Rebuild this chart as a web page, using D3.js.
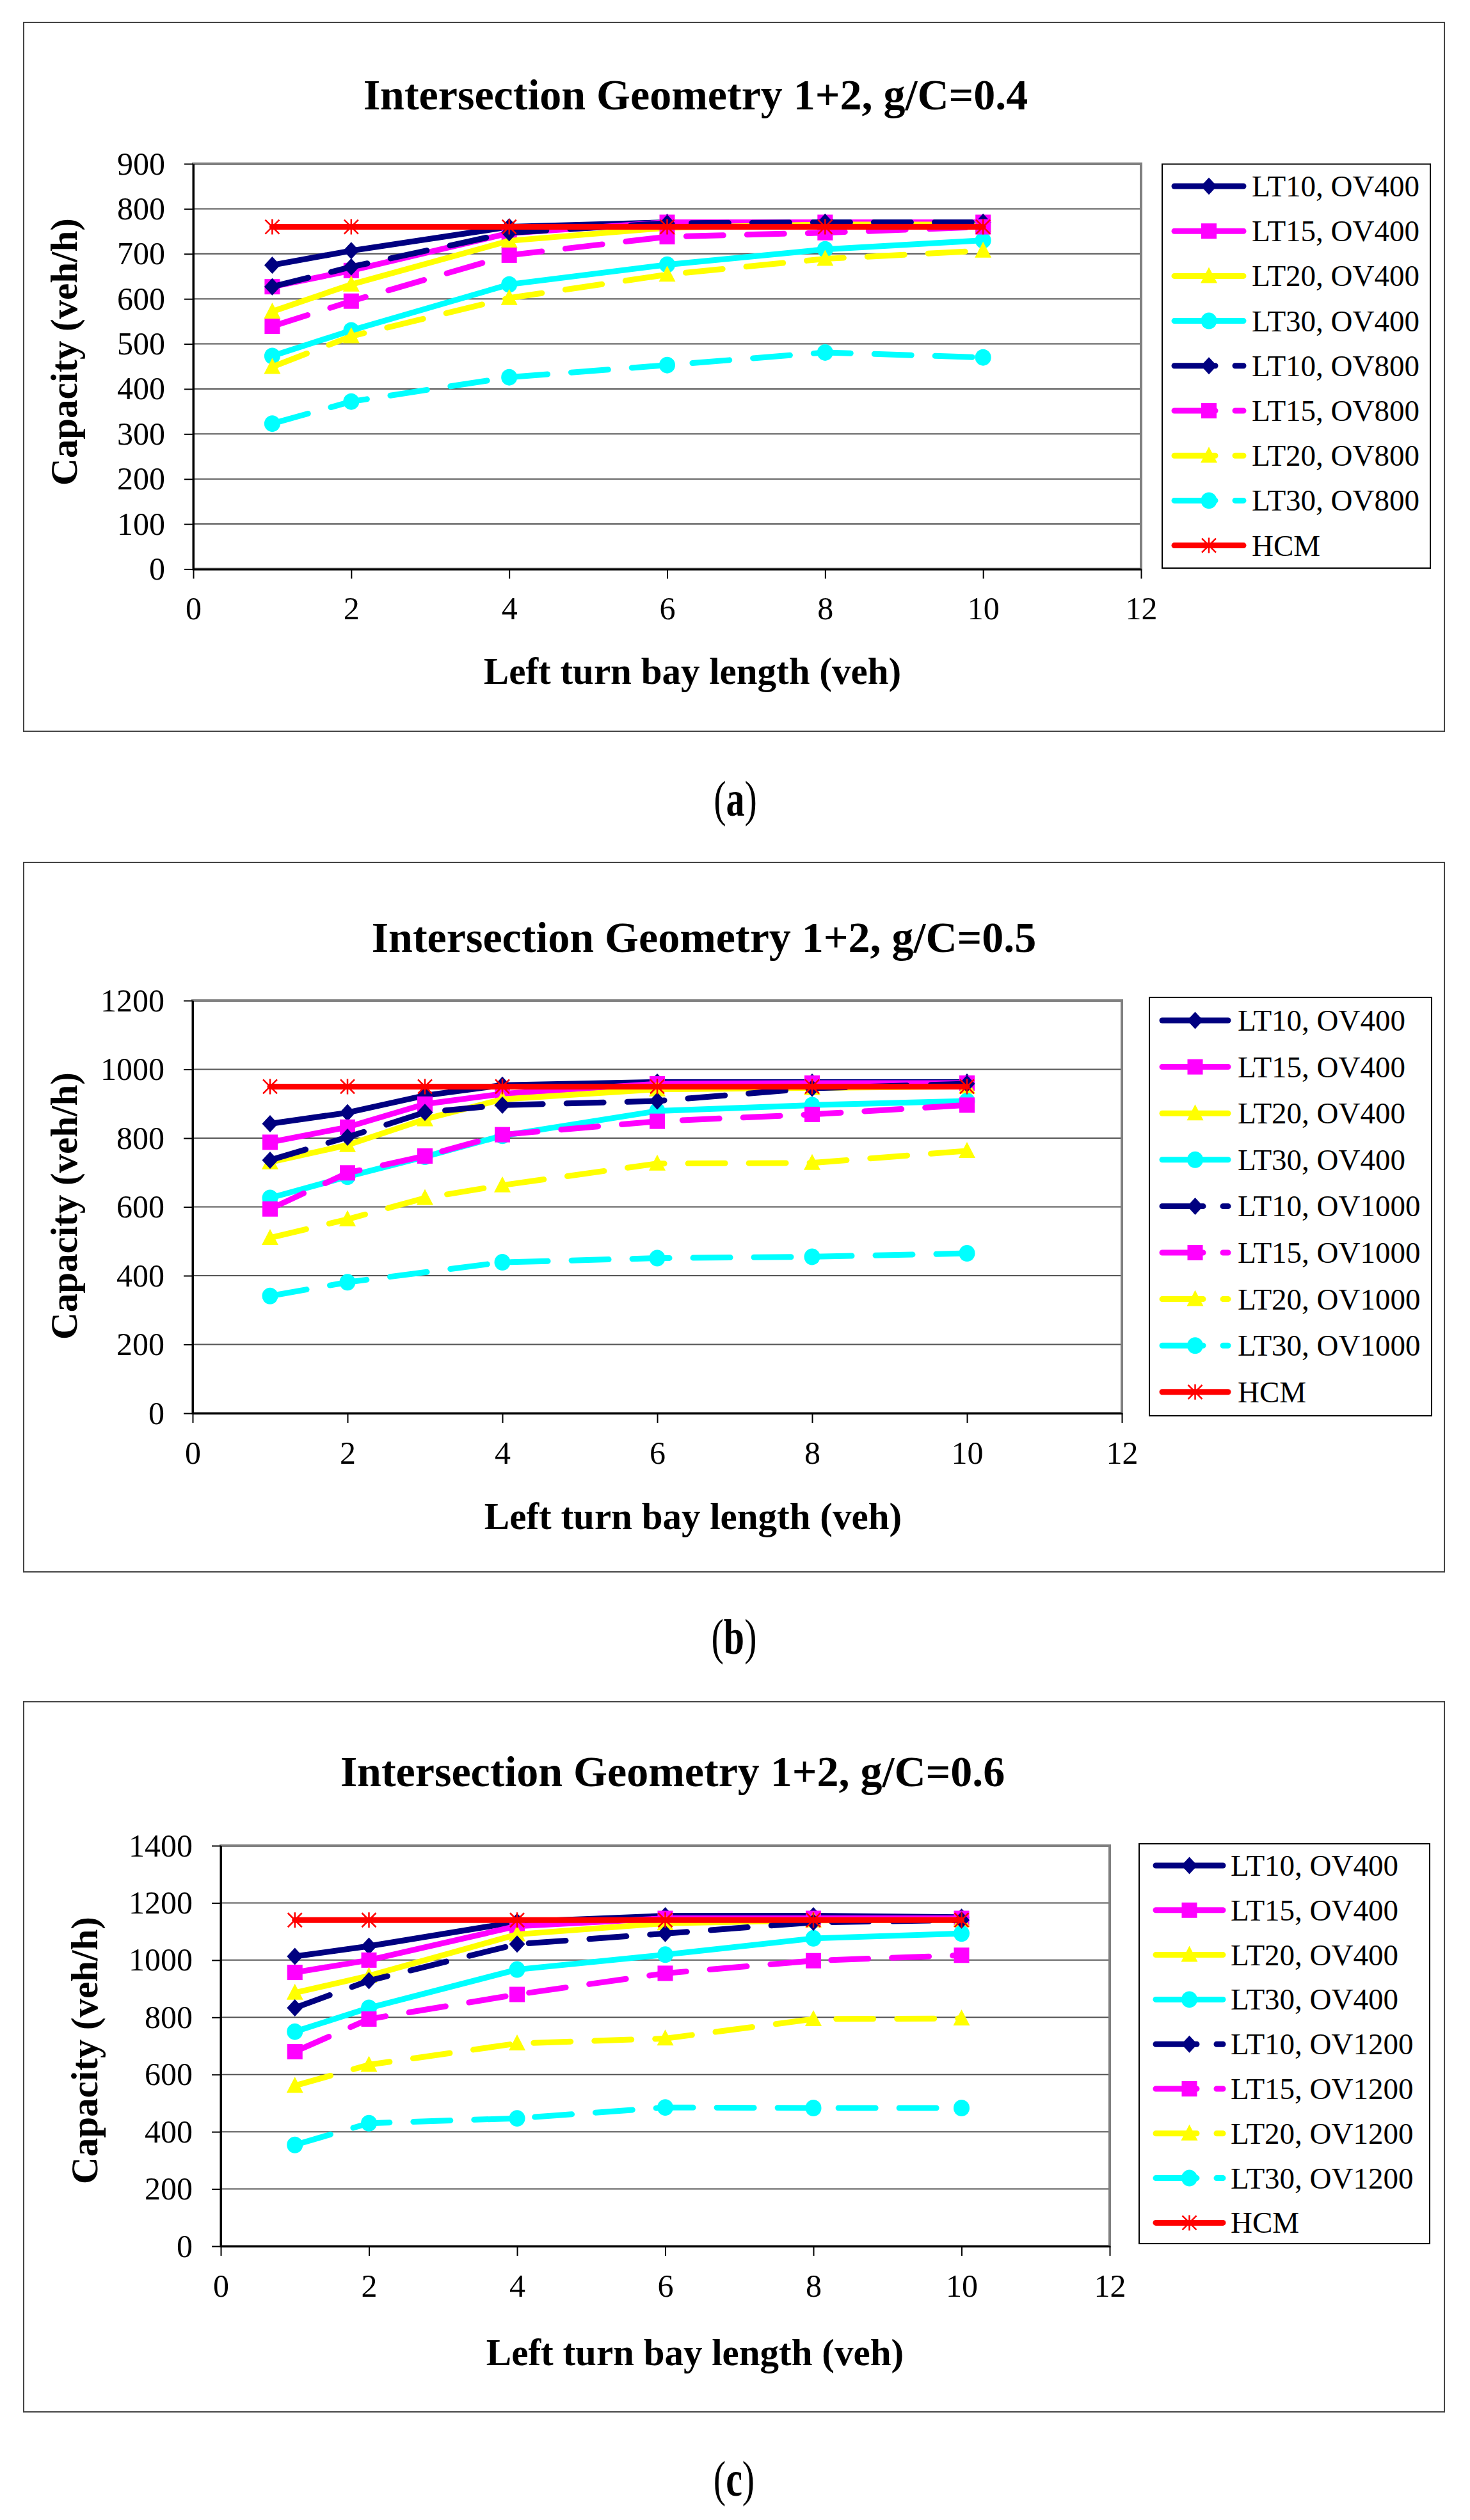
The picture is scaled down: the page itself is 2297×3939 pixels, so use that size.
<!DOCTYPE html>
<html lang="en">
<head>
<meta charset="UTF-8">
<script src="https://d3js.org/d3.v7.min.js"></script>
<title>Intersection Geometry 1+2</title>
<style>
    body { margin: 0; background: #fff; }
    svg text { font-family: "Liberation Serif", "Times New Roman", serif; }
</style>
</head>
<body>
<svg id="fig" width="2297" height="3939"></svg>
<script>
// bay lengths (veh) where each series has a point
var bayA = [1, 2, 4, 6, 8, 10];
var bayB = [1, 2, 3, 4, 6, 8, 10];
var bayB30 = [1, 2, 4, 6, 8, 10];   // LT30, OV1000 has no point at 3
var bayC = [1, 2, 4, 6, 8, 10];

var xTicks = [0, 2, 4, 6, 8, 10, 12];
var yTicksA = [0, 100, 200, 300, 400, 500, 600, 700, 800, 900];
var yTicksB = [0, 200, 400, 600, 800, 1000, 1200];
var yTicksC = [0, 200, 400, 600, 800, 1000, 1200, 1400];

var labelsA = ["LT10, OV400", "LT15, OV400", "LT20, OV400", "LT30, OV400",
    "LT10, OV800", "LT15, OV800", "LT20, OV800", "LT30, OV800", "HCM"];
var labelsB = ["LT10, OV400", "LT15, OV400", "LT20, OV400", "LT30, OV400",
    "LT10, OV1000", "LT15, OV1000", "LT20, OV1000", "LT30, OV1000", "HCM"];
var labelsC = ["LT10, OV400", "LT15, OV400", "LT20, OV400", "LT30, OV400",
    "LT10, OV1200", "LT15, OV1200", "LT20, OV1200", "LT30, OV1200", "HCM"];

// (a) g/C = 0.4, capacity veh/h
var a_lt10_ov400 = [675, 707, 760, 770, 770, 770];
var a_lt15_ov400 = [627, 663, 746, 770, 770, 770];
var a_lt20_ov400 = [572, 632, 729, 758, 765, 765];
var a_lt30_ov400 = [473, 530, 632, 676, 710, 730];
var a_lt10_ov800 = [627, 671, 747, 768, 770, 770];
var a_lt15_ov800 = [539, 595, 697, 738, 747, 760];
var a_lt20_ov800 = [449, 517, 602, 654, 689, 707];
var a_lt30_ov800 = [323, 372, 426, 453, 481, 470];
var a_hcm = [760, 760, 760, 760, 760, 760];

// (b) g/C = 0.5
var b_lt10_ov400 = [842, 874, 924, 954, 963, 963, 963];
var b_lt15_ov400 = [788, 832, 899, 929, 958, 960, 960];
var b_lt20_ov400 = [730, 780, 855, 913, 942, 946, 950];
var b_lt30_ov400 = [626, 688, 746, 807, 879, 896, 908];
var b_lt10_ov1000 = [736, 803, 875, 896, 908, 945, 958];
var b_lt15_ov1000 = [594, 699, 748, 810, 849, 869, 896];
var b_lt20_ov1000 = [510, 564, 626, 663, 726, 728, 763];
var b_lt30_ov1000 = [341, 381, 439, 451, 455, 465];
var b_hcm = [950, 950, 950, 950, 950, 950, 950];

// (c) g/C = 0.6
var c_lt10_ov400 = [1013, 1049, 1134, 1155, 1155, 1150];
var c_lt15_ov400 = [957, 1000, 1119, 1146, 1146, 1146];
var c_lt20_ov400 = [886, 945, 1090, 1129, 1139, 1140];
var c_lt30_ov400 = [750, 833, 967, 1019, 1076, 1093];
var c_lt10_ov1200 = [833, 928, 1056, 1093, 1132, 1140];
var c_lt15_ov1200 = [680, 794, 880, 954, 998, 1017];
var c_lt20_ov1200 = [561, 634, 709, 726, 794, 796];
var c_lt30_ov1200 = [354, 430, 447, 485, 483, 483];
var c_hcm = [1140, 1140, 1140, 1140, 1140, 1140];

// look of the nine series, same in every panel
var looks = [
    {color: "#000080", dashed: false, marker: "diamond"},
    {color: "#ff00ff", dashed: false, marker: "square"},
    {color: "#ffff00", dashed: false, marker: "triangle"},
    {color: "#00ffff", dashed: false, marker: "circle"},
    {color: "#000080", dashed: true, marker: "diamond"},
    {color: "#ff00ff", dashed: true, marker: "square"},
    {color: "#ffff00", dashed: true, marker: "triangle"},
    {color: "#00ffff", dashed: true, marker: "circle"},
    {color: "#ff0000", dashed: false, marker: "star"}
];

var panels = [
    {
        title: "Intersection Geometry 1+2, g/C=0.4", letter: "a",
        xs: [bayA, bayA, bayA, bayA, bayA, bayA, bayA, bayA, bayA],
        ys: [a_lt10_ov400, a_lt15_ov400, a_lt20_ov400, a_lt30_ov400,
             a_lt10_ov800, a_lt15_ov800, a_lt20_ov800, a_lt30_ov800, a_hcm],
        labels: labelsA, yTicks: yTicksA,
        frame: [37, 35, 2220, 1108], plot: [302, 1783, 256, 889.5],
        legend: [1816, 256.5, 419, 631.5], item0: 291, step: 70.2, sample: [1831, 1947], textX: 1956,
        titlePos: [1087, 171], ylab: [120, 550], xlab: [1082, 1069], cap: [1149, 1275]
    },
    {
        title: "Intersection Geometry 1+2, g/C=0.5", letter: "b",
        xs: [bayB, bayB, bayB, bayB, bayB, bayB, bayB, bayB30, bayB],
        ys: [b_lt10_ov400, b_lt15_ov400, b_lt20_ov400, b_lt30_ov400,
             b_lt10_ov1000, b_lt15_ov1000, b_lt20_ov1000, b_lt30_ov1000, b_hcm],
        labels: labelsB, yTicks: yTicksB,
        frame: [37, 1348, 2220, 1109], plot: [301, 1753, 1564, 2209],
        legend: [1796, 1559, 441, 654], item0: 1595, step: 72.6, sample: [1812, 1923], textX: 1934,
        titlePos: [1100, 1488], ylab: [120, 1885], xlab: [1083, 2390], cap: [1147, 2585]
    },
    {
        title: "Intersection Geometry 1+2, g/C=0.6", letter: "c",
        xs: [bayC, bayC, bayC, bayC, bayC, bayC, bayC, bayC, bayC],
        ys: [c_lt10_ov400, c_lt15_ov400, c_lt20_ov400, c_lt30_ov400,
             c_lt10_ov1200, c_lt15_ov1200, c_lt20_ov1200, c_lt30_ov1200, c_hcm],
        labels: labelsC, yTicks: yTicksC,
        frame: [37, 2660, 2220, 1110], plot: [345, 1734, 2885, 3511],
        legend: [1780, 2882, 454, 625], item0: 2916, step: 69.8, sample: [1802, 1915], textX: 1923,
        titlePos: [1051, 2792], ylab: [152, 3205], xlab: [1086, 3697], cap: [1147, 3901]
    }
];

var svg = d3.select("#fig");
var FONT = "'Liberation Serif', 'Times New Roman', serif";

function drawMarker(g, kind, color, cx, cy) {
    if (kind === "diamond") {
        g.append("path").attr("d", "M" + cx + "," + (cy - 13.5) + "L" + (cx + 12.5) + "," + cy +
            "L" + cx + "," + (cy + 13.5) + "L" + (cx - 12.5) + "," + cy + "Z").attr("fill", color);
    } else if (kind === "square") {
        g.append("rect").attr("x", cx - 12).attr("y", cy - 12)
            .attr("width", 24).attr("height", 24).attr("fill", color);
    } else if (kind === "triangle") {
        g.append("path").attr("d", "M" + cx + "," + (cy - 14) + "L" + (cx + 13) + "," + (cy + 11) +
            "L" + (cx - 13) + "," + (cy + 11) + "Z").attr("fill", color);
    } else if (kind === "circle") {
        g.append("ellipse").attr("cx", cx).attr("cy", cy).attr("rx", 12.5).attr("ry", 13).attr("fill", color);
    } else {
        var r = 11;
        g.append("path").attr("d", "M" + (cx - r) + "," + (cy - r) + "L" + (cx + r) + "," + (cy + r) +
            "M" + (cx + r) + "," + (cy - r) + "L" + (cx - r) + "," + (cy + r) +
            "M" + cx + "," + (cy - r - 1) + "L" + cx + "," + (cy + r + 1))
            .attr("stroke", color).attr("stroke-width", 2.5).attr("fill", "none");
    }
}

panels.forEach(function(p) {
    var g = svg.append("g");
    var L = p.plot[0], R = p.plot[1], T = p.plot[2], B = p.plot[3];
    var yMax = p.yTicks[p.yTicks.length - 1];

    var x = d3.scaleLinear().domain([0, 12]).range([L, R]);
    var y = d3.scaleLinear().domain([0, yMax]).range([B, T]);

    // outer frame
    g.append("rect").attr("x", p.frame[0]).attr("y", p.frame[1])
        .attr("width", p.frame[2]).attr("height", p.frame[3])
        .attr("fill", "none").attr("stroke", "#444").attr("stroke-width", 2);

    g.append("text").attr("x", p.titlePos[0]).attr("y", p.titlePos[1])
        .attr("text-anchor", "middle").attr("font-size", 68).attr("font-weight", "bold")
        .text(p.title);

    // gridlines
    g.append("g").selectAll("line").data(p.yTicks.filter(function(d) { return d > 0 && d < yMax; }))
        .enter().append("line")
        .attr("x1", L).attr("x2", R)
        .attr("y1", function(d) { return y(d); }).attr("y2", function(d) { return y(d); })
        .attr("stroke", "#555").attr("stroke-width", 2);

    g.append("rect").attr("x", L).attr("y", T).attr("width", R - L).attr("height", B - T)
        .attr("fill", "none").attr("stroke", "#808080").attr("stroke-width", 4);

    // axes
    var yAxis = g.append("g").attr("transform", "translate(" + L + ",0)")
        .call(d3.axisLeft(y).tickValues(p.yTicks).tickFormat(d3.format("d"))
            .tickSize(14).tickSizeOuter(0).tickPadding(30));
    var xAxis = g.append("g").attr("transform", "translate(0," + B + ")")
        .call(d3.axisBottom(x).tickValues(xTicks).tickFormat(d3.format("d"))
            .tickSize(15).tickSizeOuter(0).tickPadding(28));
    [yAxis, xAxis].forEach(function(ax) {
        ax.attr("font-family", FONT).attr("font-size", 50);
        ax.selectAll("line").attr("stroke", "#000").attr("stroke-width", 2);
        ax.select(".domain").attr("stroke", "#000").attr("stroke-width", 3);
        ax.selectAll("text").attr("fill", "#000");
    });

    g.append("text").attr("transform", "translate(" + p.ylab[0] + "," + p.ylab[1] + ") rotate(-90)")
        .attr("text-anchor", "middle").attr("font-size", 59).attr("font-weight", "bold")
        .text("Capacity (veh/h)");
    g.append("text").attr("x", p.xlab[0]).attr("y", p.xlab[1])
        .attr("text-anchor", "middle").attr("font-size", 59).attr("font-weight", "bold")
        .text("Left turn bay length (veh)");

    // series
    var line = d3.line().x(function(d) { return x(d[0]); }).y(function(d) { return y(d[1]); });
    p.ys.forEach(function(vals, i) {
        var look = looks[i];
        var pts = vals.map(function(v, k) { return [p.xs[i][k], v]; });
        var sg = g.append("g");
        sg.append("path").datum(pts).attr("d", line)
            .attr("fill", "none").attr("stroke", look.color).attr("stroke-width", 9)
            .attr("stroke-linejoin", "round").attr("stroke-linecap", "round")
            .attr("stroke-dasharray", look.dashed ? "58,37" : null);
        pts.forEach(function(pt) { drawMarker(sg, look.marker, look.color, x(pt[0]), y(pt[1])); });
    });

    // legend
    var lg = g.append("g");
    lg.append("rect").attr("x", p.legend[0]).attr("y", p.legend[1])
        .attr("width", p.legend[2]).attr("height", p.legend[3])
        .attr("fill", "#fff").attr("stroke", "#000").attr("stroke-width", 2);
    p.labels.forEach(function(lab, i) {
        var look = looks[i];
        var iy = p.item0 + i * p.step;
        var s0 = p.sample[0] + 4, s1 = p.sample[1] - 4;
        lg.append("line").attr("x1", s0).attr("x2", s1).attr("y1", iy).attr("y2", iy)
            .attr("stroke", look.color).attr("stroke-width", 9).attr("stroke-linecap", "round")
            .attr("stroke-dasharray", look.dashed ? "64,31" : null);
        drawMarker(lg, look.marker, look.color, (p.sample[0] + p.sample[1]) / 2, iy);
        lg.append("text").attr("x", p.textX).attr("y", iy + 16)
            .attr("font-size", 47).text(lab);
    });

    // caption
    var cap = g.append("text")
        .attr("transform", "translate(" + p.cap[0] + "," + p.cap[1] + ") scale(1,1.35)")
        .attr("text-anchor", "middle").attr("font-size", 58);
    cap.append("tspan").text("(");
    cap.append("tspan").attr("font-weight", "bold").text(p.letter);
    cap.append("tspan").text(")");
});
</script>
</body>
</html>
